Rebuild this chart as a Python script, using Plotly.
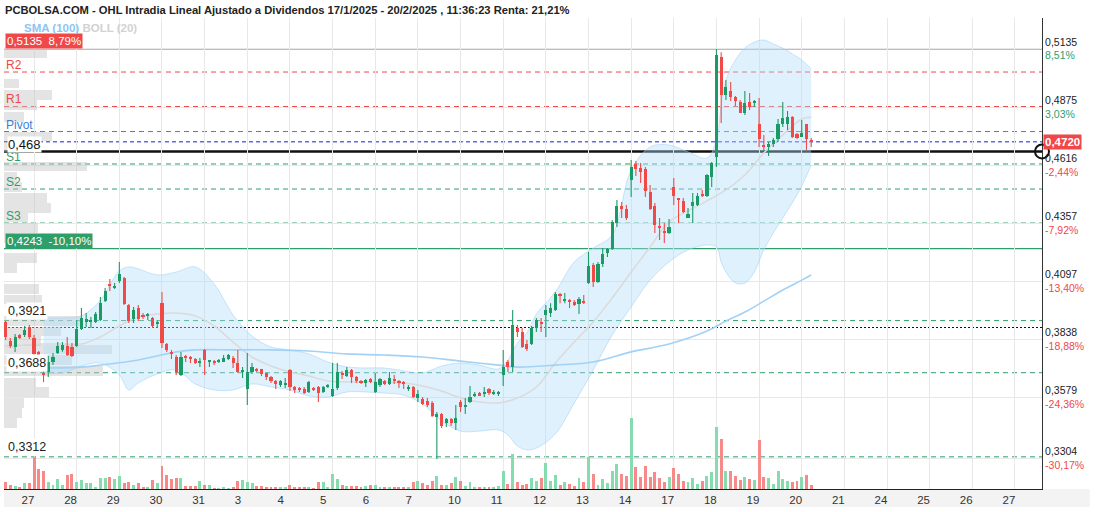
import plotly.graph_objects as go

# ---------------- data ----------------
title_text = "PCBOLSA.COM - OHL Intradia Lineal Ajustado a Dividendos 17/1/2025 - 20/2/2025 , 11:36:23 Renta: 21,21%"
day_labels = ["27", "28", "29", "30", "31", "3", "4", "5", "6", "7", "10", "11", "12",
              "13", "14", "17", "18", "19", "20", "21", "24", "25", "26", "27"]
bars_per_day = 9            # hourly bars per session
bars_before_first_label = 6  # tail of the previous session visible at the left

opens = [0.3915,0.3830,0.3803,0.3857,0.3857,0.3892,0.3843,0.3781,0.3687,0.3691,
         0.3736,0.3776,0.3790,0.3807,0.3803,0.3807,0.3883,0.3915,0.3915,0.3915,
         0.3924,0.4008,0.4085,0.4071,0.4098,0.4111,0.3991,0.3928,0.3977,0.3942,
         0.3942,0.3933,0.3910,0.3999,0.3816,0.3781,0.3758,0.3678,0.3758,0.3758,
         0.3749,0.3731,0.3790,0.3736,0.3740,0.3736,0.3736,0.3749,0.3754,0.3731,
         0.3691,0.3615,0.3691,0.3705,0.3705,0.3687,0.3669,0.3651,0.3633,0.3633,
         0.3700,0.3624,0.3620,0.3615,0.3602,0.3615,0.3624,0.3602,0.3624,0.3584,
         0.3620,0.3687,0.3673,0.3700,0.3669,0.3651,0.3642,0.3660,0.3602,0.3633,
         0.3651,0.3638,0.3660,0.3647,0.3642,0.3615,0.3624,0.3575,0.3570,0.3561,
         0.3553,0.3490,0.3503,0.3463,0.3481,0.3463,0.3557,0.3535,0.3557,0.3588,
         0.3597,0.3593,0.3615,0.3593,0.3593,0.3678,0.3736,0.3713,0.3888,0.3870,
         0.3816,0.3816,0.3888,0.3915,0.3946,0.3955,0.3968,0.4040,0.4008,0.4013,
         0.4004,0.3995,0.4008,0.4089,0.4170,0.4093,0.4174,0.4223,0.4241,0.4357,
         0.4433,0.4420,0.4549,0.4621,0.4603,0.4599,0.4496,0.4433,0.4344,0.4321,
         0.4313,0.4518,0.4469,0.4455,0.4380,0.4433,0.4438,0.4487,0.4478,0.4563,
         0.4652,0.5099,0.4929,0.4947,0.4920,0.4898,0.4849,0.4898,0.4894,0.4800,
         0.4706,0.4697,0.4710,0.4733,0.4800,0.4800,0.4831,0.4755,0.4742,0.4800,
         0.4728]
highs = [0.3919,0.3843,0.3861,0.3861,0.3897,0.3901,0.3857,0.3785,0.3696,0.3763,
         0.3776,0.3825,0.3825,0.3848,0.3821,0.3924,0.3977,0.3955,0.3937,0.3959,
         0.4026,0.4067,0.4107,0.4089,0.4183,0.4116,0.3995,0.3982,0.3991,0.3955,
         0.3955,0.3937,0.3924,0.4049,0.3821,0.3790,0.3767,0.3781,0.3767,0.3763,
         0.3754,0.3754,0.3794,0.3745,0.3745,0.3749,0.3767,0.3772,0.3763,0.3790,
         0.3713,0.3776,0.3731,0.3709,0.3705,0.3687,0.3673,0.3655,0.3655,0.3664,
         0.3705,0.3629,0.3624,0.3624,0.3651,0.3624,0.3629,0.3629,0.3638,0.3731,
         0.3731,0.3696,0.3713,0.3705,0.3673,0.3655,0.3660,0.3664,0.3687,0.3664,
         0.3655,0.3691,0.3678,0.3655,0.3651,0.3633,0.3629,0.3611,0.3579,0.3575,
         0.3561,0.3512,0.3508,0.3486,0.3486,0.3544,0.3566,0.3575,0.3629,0.3602,
         0.3602,0.3624,0.3620,0.3611,0.3606,0.3790,0.3745,0.3968,0.3901,0.3888,
         0.3834,0.3897,0.3933,0.3933,0.3991,0.3999,0.4049,0.4044,0.4044,0.4017,
         0.4013,0.4026,0.4035,0.4228,0.4178,0.4183,0.4245,0.4245,0.4371,0.4460,
         0.4451,0.4438,0.4639,0.4634,0.4625,0.4608,0.4527,0.4447,0.4380,0.4357,
         0.4375,0.4558,0.4469,0.4469,0.4424,0.4491,0.4491,0.4505,0.4576,0.4630,
         0.5135,0.5120,0.4996,0.4987,0.4925,0.4907,0.4947,0.4938,0.4907,0.4916,
         0.4751,0.4719,0.4737,0.4822,0.4898,0.4858,0.4835,0.4759,0.4818,0.4800,
         0.4737]
lows = [0.3834,0.3798,0.3781,0.3839,0.3848,0.3839,0.3767,0.3745,0.3646,0.3669,
        0.3722,0.3772,0.3781,0.3763,0.3758,0.3803,0.3879,0.3892,0.3888,0.3910,
        0.3919,0.4004,0.4053,0.4062,0.4089,0.3991,0.3910,0.3910,0.3919,0.3928,
        0.3924,0.3888,0.3888,0.3798,0.3781,0.3749,0.3678,0.3673,0.3736,0.3731,
        0.3727,0.3713,0.3678,0.3713,0.3722,0.3731,0.3736,0.3745,0.3709,0.3687,
        0.3664,0.3544,0.3682,0.3691,0.3673,0.3655,0.3642,0.3615,0.3624,0.3620,
        0.3606,0.3597,0.3602,0.3593,0.3597,0.3606,0.3557,0.3597,0.3620,0.3579,
        0.3611,0.3660,0.3669,0.3642,0.3642,0.3638,0.3624,0.3642,0.3597,0.3624,
        0.3633,0.3633,0.3638,0.3620,0.3615,0.3606,0.3575,0.3557,0.3544,0.3535,
        0.3490,0.3302,0.3441,0.3445,0.3450,0.3432,0.3512,0.3503,0.3553,0.3579,
        0.3584,0.3579,0.3588,0.3588,0.3584,0.3629,0.3691,0.3691,0.3848,0.3798,
        0.3785,0.3812,0.3870,0.3870,0.3848,0.3937,0.3964,0.3999,0.3999,0.3977,
        0.3986,0.3950,0.3995,0.4085,0.4071,0.4089,0.4161,0.4205,0.4236,0.4339,
        0.4380,0.4371,0.4473,0.4567,0.4536,0.4473,0.4415,0.4313,0.4281,0.4268,
        0.4308,0.4438,0.4357,0.4402,0.4380,0.4357,0.4433,0.4473,0.4473,0.4518,
        0.4607,0.4804,0.4907,0.4903,0.4880,0.4849,0.4840,0.4862,0.4876,0.4697,
        0.4684,0.4657,0.4697,0.4719,0.4786,0.4773,0.4737,0.4733,0.4742,0.4684,
        0.4697]
closes = [0.3848,0.3807,0.3848,0.3843,0.3879,0.3848,0.3772,0.3749,0.3678,0.3736,
          0.3758,0.3807,0.3812,0.3767,0.3763,0.3883,0.3933,0.3928,0.3924,0.3950,
          0.3999,0.4053,0.4076,0.4076,0.4129,0.3995,0.3919,0.3968,0.3928,0.3937,
          0.3950,0.3897,0.3915,0.3821,0.3790,0.3776,0.3691,0.3758,0.3754,0.3749,
          0.3731,0.3740,0.3745,0.3740,0.3731,0.3740,0.3754,0.3767,0.3731,0.3691,
          0.3700,0.3691,0.3713,0.3696,0.3682,0.3669,0.3651,0.3638,0.3651,0.3642,
          0.3624,0.3611,0.3611,0.3597,0.3647,0.3611,0.3597,0.3624,0.3633,0.3615,
          0.3691,0.3682,0.3700,0.3669,0.3651,0.3642,0.3655,0.3647,0.3647,0.3660,
          0.3638,0.3664,0.3651,0.3642,0.3638,0.3624,0.3579,0.3593,0.3548,0.3544,
          0.3494,0.3503,0.3450,0.3481,0.3463,0.3486,0.3535,0.3544,0.3579,0.3593,
          0.3584,0.3597,0.3597,0.3597,0.3602,0.3713,0.3713,0.3901,0.3870,0.3803,
          0.3794,0.3888,0.3924,0.3910,0.3968,0.3977,0.4040,0.4031,0.4017,0.4008,
          0.3991,0.4017,0.3999,0.4165,0.4093,0.4174,0.4219,0.4241,0.4362,0.4433,
          0.4420,0.4380,0.4608,0.4599,0.4585,0.4500,0.4420,0.4348,0.4335,0.4313,
          0.4339,0.4478,0.4460,0.4406,0.4397,0.4451,0.4478,0.4478,0.4572,0.4625,
          0.5108,0.4929,0.4965,0.4920,0.4903,0.4849,0.4894,0.4876,0.4903,0.4733,
          0.4697,0.4710,0.4728,0.4800,0.4827,0.4831,0.4742,0.4737,0.4759,0.4733,
          0.4720]
volumes = [67,40,35,20,57,57,317,197,183,73,
           40,97,40,137,150,67,90,57,63,20,
           113,113,117,97,130,57,73,43,57,17,
           17,90,63,230,140,97,107,107,30,30,
           30,83,40,40,10,10,17,10,23,83,
           90,67,63,30,30,17,17,17,23,23,
           37,23,17,23,17,10,67,67,23,150,
           97,40,30,30,30,17,30,40,40,17,
           23,23,23,23,23,23,67,80,57,40,
           83,130,40,40,57,117,80,30,67,23,
           17,23,17,17,30,185,47,350,67,40,
           47,113,85,107,257,80,140,40,67,47,
           30,107,67,317,147,45,97,57,180,248,
           147,135,707,217,123,230,123,170,113,67,
           123,207,147,77,67,115,47,80,135,167,
           617,497,180,180,133,90,123,100,90,490,
           117,107,47,180,97,80,67,80,123,140,
           40]

# Bollinger (20) bands, read at sampled bars
boll_idx = [8,12,16,20,24,26,28,32,36,40,44,48,52,56,60,64,68,72,76,80,84,88,92,96,100,
            104,106,108,110,112,116,120,124,128,132,136,140,144,148,150,151,152,154,156,
            158,160,162,164,166,168,170]
boll_upper = [0.3933,0.3933,0.3942,0.4013,0.4143,0.4161,0.4152,0.4125,0.4138,0.4161,
              0.4085,0.3946,0.3852,0.3803,0.3790,0.3772,0.3736,0.3714,0.3709,0.3709,
              0.3696,0.3687,0.3718,0.3731,0.3722,0.3705,0.3745,0.3821,0.3866,0.3950,
              0.4049,0.4183,0.4245,0.4304,0.4594,0.4697,0.4706,0.4675,0.4648,0.4728,
              0.4885,0.4996,0.5086,0.5139,0.5166,0.5175,0.5157,0.5139,0.5113,0.5086,
              0.5046]
boll_lower = [0.3687,0.3687,0.3718,0.3731,0.3678,0.3611,0.3642,0.3682,0.3700,0.3638,
              0.3611,0.3611,0.3638,0.3624,0.3611,0.3584,0.3579,0.3602,0.3602,0.3597,
              0.3588,0.3548,0.3472,0.3427,0.3427,0.3432,0.3410,0.3360,0.3343,0.3351,
              0.3414,0.3553,0.3700,0.3857,0.3982,0.4102,0.4183,0.4237,0.4259,0.4250,
              0.4183,0.4138,0.4089,0.4089,0.4138,0.4237,0.4313,0.4380,0.4447,0.4523,
              0.4616]
boll_mid_idx = [0,4,8,12,16,20,24,28,32,36,40,44,48,52,56,60,64,68,72,76,80,84,88,92,96,
                100,104,108,112,116,120,124,128,132,136,140,144,148,152,156,160,164,168,170]
boll_mid = [0.3803,0.3812,0.3816,0.3816,0.3816,0.3848,0.3897,0.3937,0.3950,0.3955,
            0.3942,0.3897,0.3825,0.3758,0.3718,0.3691,0.3673,0.3651,0.3647,0.3647,
            0.3647,0.3642,0.3629,0.3606,0.3575,0.3557,0.3553,0.3575,0.3624,0.3731,
            0.3825,0.3915,0.4022,0.4138,0.4250,0.4362,0.4411,0.4456,0.4505,0.4572,
            0.4670,0.4751,0.4822,0.4831]
sma_idx = [8,16,20,28,32,36,40,48,56,64,72,80,88,96,104,108,116,124,132,140,148,152,
           156,160,164,168,170]
sma100 = [0.3709,0.3713,0.3722,0.3745,0.3763,0.3781,0.3790,0.3790,0.3790,0.3785,
          0.3772,0.3767,0.3758,0.3740,0.3722,0.3713,0.3722,0.3736,0.3781,0.3816,
          0.3874,0.3919,0.3959,0.4008,0.4058,0.4102,0.4125]

# volume at price (left histogram, relative units)
profile_prices = [0.5113,0.4979,0.4929,0.4885,0.4831,0.4742,0.4697,0.4608,0.4563,0.4518,
                  0.4469,0.4424,0.4380,0.4335,0.4290,0.4201,0.4156,0.4062,0.4017,0.3919,
                  0.3874,0.3830,0.3790,0.3745,0.3696,0.3646,0.3602,0.3553,0.3508,0.3463]
profile_volumes = [43,15,48,33,20,48,15,83,13,18,43,47,24,34,10,33,13,35,38,77,
                   57,37,108,68,99,32,45,20,18,13]

price_ticks = [0.5135, 0.4875, 0.4616, 0.4357, 0.4097, 0.3838, 0.3579, 0.3304]
pct_ticks = ["8,51%", "3,03%", "-2,44%", "-7,92%", "-13,40%", "-18,88%", "-24,36%", "-30,17%"]

level_names = ["R2", "R1", "Pivot", "S1", "S2", "S3"]
level_values = [0.5032, 0.4878, 0.4766, 0.4621, 0.4509, 0.4357]

support_labels = ["0,3921", "0,3688", "0,3312"]
support_values = [0.3921, 0.3688, 0.3312]
dotted_value = 0.3890

max_price, max_text = 0.5135, "0,5135\u00a0\u00a08,79%"
min_price, min_text = 0.4243, "0,4243\u00a0\u00a0-10,10%"
last_price, last_text = 0.4720, "0,4720"
avg_price, avg_text = 0.4677, "0,468"

# ---------------- style ----------------
GREEN = "#1c9a66"
RED = "#f04a47"
VGREEN = "#86dcae"
VRED = "#f68a88"
LGREEN = "#2e9e6a"
LRED = "#f04848"
BLUE = "#3c7fd8"
FONT = "Liberation Sans, Arial, sans-serif"
Y_RANGE = [0.31682, 0.52735]
X_RANGE = [-0.34, 218.7]
PROFILE_SCALE = 1 / 4.74   # profile units -> bar slots
MIN_BODY = 0.00045         # doji bodies still show one pixel

idx = list(range(len(opens)))
up = [c >= o for o, c in zip(opens, closes)]
vol_colors = [VGREEN if u else VRED for u in up]
body_colors = [GREEN if u else RED for u in up]
body_base = [min(o, c) for o, c in zip(opens, closes)]
body_len = [max(abs(c - o), MIN_BODY) for o, c in zip(opens, closes)]
tickvals = [bars_before_first_label + bars_per_day * k for k in range(len(day_labels))]

fig = go.Figure()

# volume-at-price histogram
fig.add_trace(go.Bar(x=[v * PROFILE_SCALE for v in profile_volumes], y=profile_prices,
                     base=X_RANGE[0], orientation="h", width=0.0041,
                     marker=dict(color="rgba(196,196,196,0.45)", line=dict(width=0)),
                     xaxis="x", yaxis="y", hoverinfo="skip", showlegend=False))

# Bollinger band and averages
fig.add_trace(go.Scatter(x=boll_idx, y=boll_lower, mode="lines",
                         line=dict(color="rgba(160,208,245,0.55)", width=1, shape="spline"),
                         xaxis="x", yaxis="y", hoverinfo="skip", showlegend=False))
fig.add_trace(go.Scatter(x=boll_idx, y=boll_upper, mode="lines", fill="tonexty",
                         fillcolor="rgba(176,220,248,0.40)",
                         line=dict(color="rgba(160,208,245,0.55)", width=1, shape="spline"),
                         xaxis="x", yaxis="y", hoverinfo="skip", showlegend=False))
fig.add_trace(go.Scatter(x=boll_mid_idx, y=boll_mid, mode="lines",
                         line=dict(color="#dadada", width=1.5, shape="spline"),
                         xaxis="x", yaxis="y", hoverinfo="skip", showlegend=False))
fig.add_trace(go.Scatter(x=sma_idx, y=sma100, mode="lines",
                         line=dict(color="#a3d2f6", width=1.6, shape="spline"),
                         xaxis="x", yaxis="y", hoverinfo="skip", showlegend=False))

# volume
fig.add_trace(go.Bar(x=idx, y=volumes, width=0.62, marker=dict(color=vol_colors, line=dict(width=0)),
                     xaxis="x", yaxis="y2", hoverinfo="skip", showlegend=False))

# candles: bodies as pixel-snapped bars, wicks as thin lines (own overlay above the band)
fig.add_trace(go.Bar(x=idx, y=body_len, base=body_base, width=0.66,
                     marker=dict(color=body_colors, line=dict(width=0)),
                     xaxis="x", yaxis="y3", hoverinfo="skip", showlegend=False))
for flag, col in ((True, GREEN), (False, RED)):
    wx, wy = [], []
    for i, u in enumerate(up):
        if u == flag:
            wx += [i, i, None]
            wy += [lows[i], highs[i], None]
    fig.add_trace(go.Scatter(x=wx, y=wy, mode="lines", line=dict(color=col, width=1.1),
                             xaxis="x", yaxis="y3", hoverinfo="skip", showlegend=False))

shapes = []
def hline(y, color, width=1, dash="solid", layer="below"):
    shapes.append(dict(type="line", xref="paper", x0=0, x1=1, yref="y", y0=y, y1=y,
                       line=dict(color=color, width=width, dash=dash), layer=layer))

hline(max_price, LRED, 1.2)
for name, val in zip(level_names, level_values):
    col = LRED if name.startswith("R") else (BLUE if name == "Pivot" else LGREEN)
    hline(val, col, 1, "5px,4px")
hline(last_price, "#1a1aee", 1, "4px,3px")
hline(avg_price, "#111111", 2.5)
hline(min_price, LGREEN, 1.2)
for val in support_values:
    hline(val, LGREEN, 1, "5px,4px")
hline(dotted_value, "#111111", 1.2, "2px,2px")

# axis-label strip below the plot
shapes.append(dict(type="rect", xref="paper", yref="paper", x0=0, x1=1.046, y0=-0.038, y1=0,
                   fillcolor="#f3f3f3", line=dict(width=0), layer="below"))
# end marker of the average line
shapes.append(dict(type="circle", xref="paper", yref="y", xsizemode="pixel", ysizemode="pixel",
                   xanchor=1, yanchor=avg_price, x0=-7, x1=7, y0=-7, y1=7,
                   line=dict(color="#111111", width=2), fillcolor="rgba(0,0,0,0)", layer="above"))

annotations = []
for name, val in zip(level_names, level_values):
    col = LRED if name.startswith("R") else (BLUE if name == "Pivot" else LGREEN)
    annotations.append(dict(text=name, xref="paper", x=0.001, xanchor="left", yref="y", y=val,
                            yanchor="bottom", yshift=-1, showarrow=False,
                            font=dict(size=12, color=col, family=FONT), borderpad=0))
annotations.append(dict(text=max_text, xref="paper", x=0.001, xanchor="left", yref="y", y=max_price,
                        yanchor="bottom", showarrow=False, bgcolor=LRED, borderpad=1,
                        font=dict(size=11.5, color="white", family=FONT)))
annotations.append(dict(text=min_text, xref="paper", x=0.001, xanchor="left", yref="y", y=min_price,
                        yanchor="bottom", showarrow=False, bgcolor=LGREEN, borderpad=1,
                        font=dict(size=11.5, color="white", family=FONT)))
annotations.append(dict(text=avg_text, xref="paper", x=0.003, xanchor="left", yref="y", y=avg_price,
                        yanchor="bottom", yshift=-2, showarrow=False, bgcolor="white", borderpad=0,
                        font=dict(size=13, color="#111111", family=FONT)))
for lab, val in zip(support_labels, support_values):
    annotations.append(dict(text=lab, xref="paper", x=0.002, xanchor="left", yref="y", y=val,
                            yanchor="bottom", yshift=1, showarrow=False, bgcolor="white", borderpad=1,
                            font=dict(size=12.5, color="#222222", family=FONT)))
annotations.append(dict(text="<b>" + last_text + "</b>", xref="paper", x=1, xanchor="left", xshift=1,
                        yref="y", y=last_price, yanchor="middle", showarrow=False, bgcolor=LRED,
                        borderpad=1, font=dict(size=11.5, color="white", family=FONT)))
annotations.append(dict(text="<b><span style='color:#8cc6f2'>SMA (100)</span> "
                             "<span style='color:#d2d2d2'>BOLL (20)</span></b>",
                        xref="paper", x=0.017, xanchor="left", yref="paper", y=0.979,
                        yanchor="middle", showarrow=False,
                        font=dict(size=11.5, family=FONT)))

ticktext_y = []
for p, pc in zip(price_ticks, pct_ticks):
    col = LRED if pc.startswith("-") else LGREEN
    ticktext_y.append(f"{p:.4f}".replace(".", ",") + f"<br><span style='color:{col}'>{pc}</span>")

fig.update_layout(
    width=1096, height=512, autosize=False,
    margin=dict(l=4, r=54, t=18, b=23, pad=0),
    paper_bgcolor="white", plot_bgcolor="white",
    font=dict(family=FONT, color="#222222"),
    showlegend=False, bargap=0, barmode="overlay",
    title=dict(text="<b>" + title_text + "</b>", xref="container", yref="container",
               x=5 / 1096, xanchor="left", y=1 - 10 / 512, yanchor="middle",
               font=dict(size=11.2, color="#222222", family=FONT)),
    xaxis=dict(range=X_RANGE, tickmode="array", tickvals=tickvals,
               ticktext=day_labels, showgrid=True, gridcolor="#e8e8e8", gridwidth=1,
               zeroline=False, ticks="", showline=True, linecolor="#222222", linewidth=1,
               ticklabelposition="outside right", ticklabelshift=-13,
               tickfont=dict(size=11.5, color="#333333", family=FONT)),
    yaxis=dict(side="right", range=Y_RANGE, tickmode="array", tickvals=price_ticks,
               ticktext=ticktext_y, showgrid=True, gridcolor="#e8e8e8", gridwidth=1,
               zeroline=False, ticks="", showline=True, linecolor="#333333", linewidth=1,
               tickfont=dict(size=10.5, color="#222222", family=FONT)),
    yaxis2=dict(overlaying="y", range=[0, 4710], visible=False),
    yaxis3=dict(overlaying="y", range=Y_RANGE, visible=False),
    shapes=shapes, annotations=annotations,
)

fig.write_html("out.html")
